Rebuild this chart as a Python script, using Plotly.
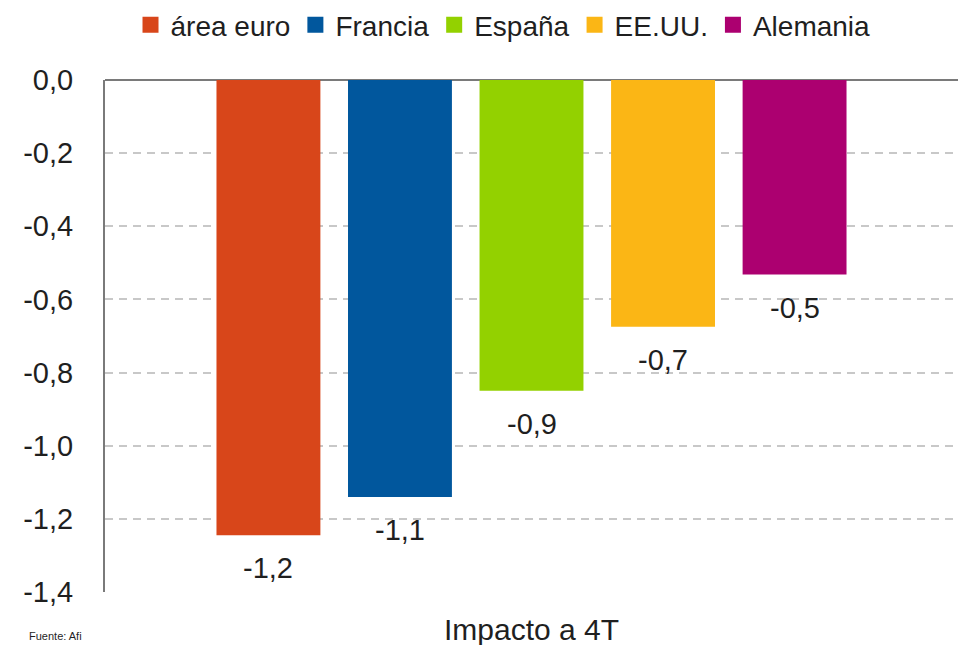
import plotly.graph_objects as go

categories = ["Impacto a 4T"]
series_names = ["área euro", "Francia", "España", "EE.UU.", "Alemania"]
series_values = [-1.245, -1.14, -0.85, -0.675, -0.532]
value_labels = ["-1,2", "-1,1", "-0,9", "-0,7", "-0,5"]
colors = ["#D8461A", "#01579D", "#93D100", "#FBB615", "#AC0070"]
y_ticks = [0, -0.2, -0.4, -0.6, -0.8, -1.0, -1.2, -1.4]
y_tick_labels = ["0,0", "-0,2", "-0,4", "-0,6", "-0,8", "-1,0", "-1,2", "-1,4"]

FONT = "Liberation Sans, Arial, sans-serif"
TXT = "#1f1f1f"
BARGAP = 0.229

fig = go.Figure()
for name, val, col in zip(series_names, series_values, colors):
    fig.add_trace(go.Bar(x=categories, y=[val], name=name, marker_color=col,
                         marker_line_width=0, showlegend=False))
# legend entries with larger square symbols
for name, col in zip(series_names, colors):
    fig.add_trace(go.Scatter(x=[None], y=[None], mode="markers", name=name,
                             marker=dict(symbol="square", size=16, color=col)))

n = len(series_names)
slot = (1 - BARGAP) / n
for i, (val, lab) in enumerate(zip(series_values, value_labels)):
    fig.add_annotation(x=(i - (n - 1) / 2) * slot, y=val, xref="x", yref="y",
                       text=lab, showarrow=False, yshift=-33, yanchor="middle",
                       font=dict(family=FONT, size=29, color=TXT))

fig.add_annotation(x=-0.0914, y=-0.1016, xref="paper", yref="paper", xanchor="left",
                   yanchor="bottom", text="Fuente: Afi", showarrow=False,
                   font=dict(family=FONT, size=11, color=TXT))

fig.update_layout(
    width=958, height=637,
    margin=dict(l=97, r=8, t=72, b=53, autoexpand=False),
    paper_bgcolor="white", plot_bgcolor="white",
    barmode="group", bargap=BARGAP, bargroupgap=0.21,
    font=dict(family=FONT, size=29, color=TXT),
    legend=dict(orientation="h", x=0.4666, xanchor="center", y=1.1074, yanchor="middle",
                font=dict(family=FONT, size=28, color=TXT), itemwidth=30,
                tracegroupgap=0, bgcolor="rgba(0,0,0,0)"),
    xaxis=dict(showline=False, showgrid=False, zeroline=False, ticks="",
               automargin=False,
               tickfont=dict(family=FONT, size=30, color=TXT), ticklabelstandoff=17),
    yaxis=dict(range=[-1.4, 0], tickvals=y_ticks, ticktext=y_tick_labels,
               automargin=False,
               showgrid=True, gridcolor="#c8c8c8", gridwidth=2, griddash="8px,6px",
               zeroline=True, zerolinecolor="#7a7a7a", zerolinewidth=2,
               showline=True, linecolor="#7a7a7a", linewidth=2,
               ticks="", ticklabelstandoff=24,
               tickfont=dict(family=FONT, size=29, color=TXT)),
)

fig.write_html("out.html")
